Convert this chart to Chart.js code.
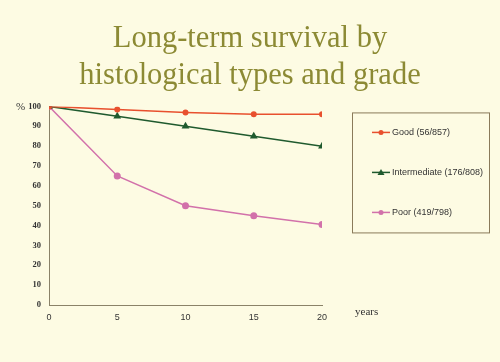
<!DOCTYPE html>
<html><head><meta charset="utf-8">
<script src="https://cdn.jsdelivr.net/npm/chart.js@4/dist/chart.umd.min.js"></script>
<style>html,body{margin:0;padding:0;background:#fdfbe3;}#c{display:block;}</style>
</head><body>
<div style="width:500px;height:362px;"><canvas id="c" width="500" height="362"></canvas></div>
<script>
const years = [0, 5, 10, 15, 20];
const goodValues = [100, 98.5, 97, 96, 96];
const intermediateValues = [100, 95, 90, 85, 80];
const poorValues = [100, 65, 50, 45, 40.5];
const seriesLabels = ['Good (56/857)', 'Intermediate (176/808)', 'Poor (419/798)'];
const yTicks = [0,10,20,30,40,50,60,70,80,90,100];
const xTicks = [0,5,10,15,20];
const titleLines = ['Long-term survival by', 'histological types and grade'];
const yUnit = '%';
const xUnit = 'years';

const axisColor = '#8a8268';

const bgPlugin = {
  id: 'bg',
  beforeDraw(chart) {
    const ctx = chart.ctx;
    ctx.save();
    ctx.fillStyle = '#fdfbe3';
    ctx.fillRect(0, 0, chart.width, chart.height);
    ctx.restore();
  }
};

const extrasPlugin = {
  id: 'extras',
  afterDraw(chart) {
    const ctx = chart.ctx;
    const a = chart.chartArea;
    ctx.save();
    ctx.fillStyle = '#333';
    ctx.textBaseline = 'middle';
    ctx.textAlign = 'left';
    // y-axis unit label
    ctx.font = '11px "Liberation Serif", "Times New Roman", serif';
    ctx.fillText(yUnit, a.left - 33, chart.scales.y.getPixelForValue(100) + 0.5);
    // x-axis unit label
    ctx.fillText(xUnit, a.right + 33, a.bottom + 7);
    // legend box
    const bx = a.right + 30, by = a.top + 6, bw = 137, bh = 120;
    ctx.strokeStyle = '#8a7a5a';
    ctx.lineWidth = 1;
    ctx.strokeRect(bx + 0.5, by + 0.5, bw, bh);
    ctx.font = '9px "Liberation Sans", Arial, sans-serif';
    chart.data.datasets.forEach((ds, i) => {
      const y = by + 20 + i * 40;
      const lx = bx + 20;
      ctx.strokeStyle = ds.borderColor;
      ctx.lineWidth = 1.5;
      ctx.beginPath();
      ctx.moveTo(lx, y);
      ctx.lineTo(lx + 18, y);
      ctx.stroke();
      ctx.fillStyle = ds.borderColor;
      ctx.beginPath();
      if (ds.pointStyle === 'triangle') {
        ctx.moveTo(lx + 9, y - 3.5); ctx.lineTo(lx + 12.5, y + 2.5); ctx.lineTo(lx + 5.5, y + 2.5); ctx.closePath();
      } else {
        ctx.arc(lx + 9, y, 2.5, 0, Math.PI * 2);
      }
      ctx.fill();
      ctx.fillStyle = '#333';
      ctx.textAlign = 'left';
      ctx.fillText(ds.label, lx + 20, y + 0.5);
    });
    ctx.restore();
  }
};

new Chart(document.getElementById('c'), {
  type: 'line',
  data: {
    labels: years,
    datasets: [
      { label: seriesLabels[0], data: goodValues, borderColor: '#e8502e', backgroundColor: '#e8502e', pointStyle: 'circle', pointRadius: 3, pointBorderWidth: 0, borderWidth: 1.5, tension: 0 },
      { label: seriesLabels[1], data: intermediateValues, borderColor: '#1f5a2e', backgroundColor: '#1f5a2e', pointStyle: 'triangle', pointRadius: 4.5, pointBorderWidth: 0, borderWidth: 1.5, tension: 0 },
      { label: seriesLabels[2], data: poorValues, borderColor: '#d271aa', backgroundColor: '#d271aa', pointStyle: 'circle', pointRadius: 3.5, pointBorderWidth: 0, borderWidth: 1.5, tension: 0 }
    ]
  },
  options: {
    responsive: false,
    animation: false,
    layout: { padding: { left: 0, right: 0, top: 0, bottom: 0 } },
    plugins: {
      legend: { display: false },
      tooltip: { enabled: false },
      title: {
        display: true,
        text: titleLines,
        color: '#8c8a34',
        font: { family: '"Liberation Serif", "Times New Roman", serif', size: 30.5, weight: 'normal', lineHeight: 1.22 },
        padding: { top: 20, bottom: 12 }
      }
    },
    scales: {
      x: {
        type: 'linear',
        min: 0, max: 20,
        afterBuildTicks(s) { s.ticks = xTicks.map(v => ({ value: v })); },
        afterFit(s) { s.height = 57; },
        grid: { display: false, drawTicks: true, tickLength: 3, color: axisColor },
        border: { color: axisColor, width: 1 },
        ticks: { color: '#333', font: { family: '"Liberation Sans", Arial, sans-serif', size: 9 }, padding: 4, maxRotation: 0 }
      },
      y: {
        min: 0, max: 100,
        afterBuildTicks(s) { s.ticks = yTicks.map(v => ({ value: v })); },
        afterFit(s) { s.width = 49; },
        grid: { display: false, drawTicks: true, tickLength: 4, color: axisColor },
        border: { color: axisColor, width: 1 },
        ticks: {
          color: '#333',
          font: { family: '"Liberation Serif", "Times New Roman", serif', size: 8.5, weight: 'bold' },
          padding: 4
        }
      },
      ySpace: {
        position: 'right',
        min: 0, max: 100,
        afterFit(s) { s.width = 178; },
        grid: { display: false, drawTicks: false },
        border: { display: false },
        ticks: { display: false }
      }
    }
  },
  plugins: [bgPlugin, extrasPlugin]
});
</script>
</body></html>
